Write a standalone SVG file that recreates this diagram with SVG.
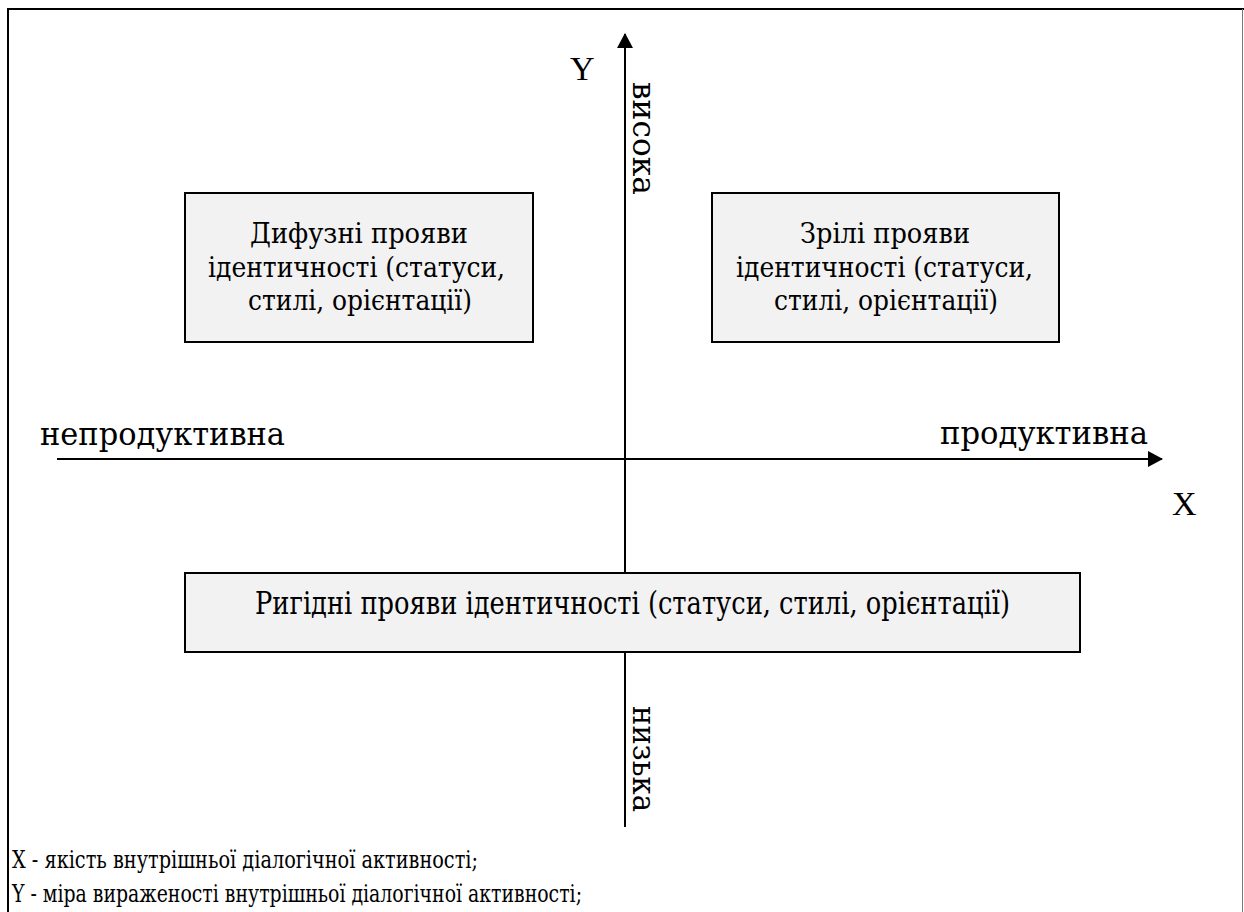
<svg xmlns="http://www.w3.org/2000/svg" width="1244" height="912" viewBox="0 0 1244 912">
<style>
  text { font-family: "DejaVu Serif", "Liberation Serif", serif; fill: #000; }
  .lbl { font-size: 32px; }
  .bx { font-size: 28.5px; }
  .ax { font-size: 34px; font-family: "Liberation Serif", "DejaVu Serif", serif; }
  .foot { font-size: 24px; }
  .box { fill: #f2f2f2; stroke: #000; stroke-width: 2; }
  .axis { stroke: #000; stroke-width: 2; fill: none; }
</style>
<defs>
  <marker id="arr" viewBox="0 0 15 16" refX="14" refY="8" markerWidth="15" markerHeight="16" markerUnits="userSpaceOnUse" orient="auto">
    <path d="M0,0 L15,8 L0,16 Z" fill="#000"/>
  </marker>
</defs>
<rect width="1244" height="912" fill="#fff"/>
<g id="frame">
  <path d="M8,912 L8,9 L1244,9" fill="none" stroke="#000" stroke-width="2"/>
  <line x1="1242.5" y1="9" x2="1242.5" y2="912" stroke="#777" stroke-width="1"/>
</g>
<g id="connectors">
  <line class="axis" x1="625" y1="827" x2="625" y2="34" marker-end="url(#arr)"/>
  <line class="axis" x1="57" y1="459" x2="1162" y2="459" marker-end="url(#arr)"/>
</g>
<g id="axis-labels">
  <text class="ax" x="570" y="80">Y</text>
  <text class="ax" x="1172" y="515">X</text>
  <text class="lbl" x="40" y="445" textLength="245" lengthAdjust="spacingAndGlyphs">непродуктивна</text>
  <text class="lbl" x="940" y="444" textLength="208" lengthAdjust="spacingAndGlyphs">продуктивна</text>
  <text class="lbl" transform="translate(633,82) rotate(90)" textLength="113" lengthAdjust="spacingAndGlyphs">висока</text>
  <text class="lbl" transform="translate(633,706) rotate(90)" textLength="106" lengthAdjust="spacingAndGlyphs">низька</text>
</g>
<g id="box-diffuse">
  <rect class="box" x="185" y="193" width="348" height="149"/>
  <text class="bx" x="250" y="243" textLength="218" lengthAdjust="spacingAndGlyphs">Дифузні прояви</text>
  <text class="bx" x="208" y="277" textLength="297" lengthAdjust="spacingAndGlyphs">ідентичності (статуси,</text>
  <text class="bx" x="248" y="310" textLength="224" lengthAdjust="spacingAndGlyphs">стилі, орієнтації)</text>
</g>
<g id="box-mature">
  <rect class="box" x="712" y="193" width="347" height="149"/>
  <text class="bx" x="800" y="243" textLength="170" lengthAdjust="spacingAndGlyphs">Зрілі прояви</text>
  <text class="bx" x="736" y="277" textLength="297" lengthAdjust="spacingAndGlyphs">ідентичності (статуси,</text>
  <text class="bx" x="774" y="310" textLength="224" lengthAdjust="spacingAndGlyphs">стилі, орієнтації)</text>
</g>
<g id="box-rigid">
  <rect class="box" x="185" y="573" width="895" height="79"/>
  <text class="lbl" x="255" y="614" textLength="755" lengthAdjust="spacingAndGlyphs">Ригідні прояви ідентичності (статуси, стилі, орієнтації)</text>
</g>
<g id="legend">
  <text class="foot" x="12" y="868" textLength="466" lengthAdjust="spacingAndGlyphs">X - якість внутрішньої діалогічної активності;</text>
  <text class="foot" x="12" y="902" textLength="570" lengthAdjust="spacingAndGlyphs">Y - міра вираженості внутрішньої діалогічної активності;</text>
</g>
</svg>
